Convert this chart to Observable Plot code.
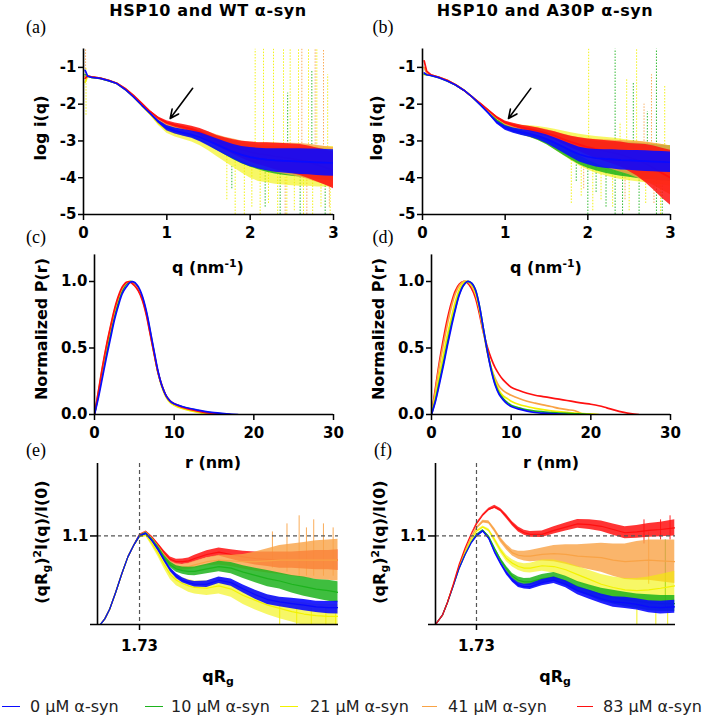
<!DOCTYPE html>
<html>
<head>
<meta charset="utf-8">
<script src="https://cdn.jsdelivr.net/npm/d3@7"></script>
<script src="https://cdn.jsdelivr.net/npm/@observablehq/plot@0.6"></script>
<style>
html,body{margin:0;padding:0;background:#fff;}
#fig{position:relative;width:709px;height:717px;overflow:hidden;background:#fff;font-family:"DejaVu Sans",sans-serif;color:#000;}
.lbl{position:absolute;white-space:nowrap;transform:translate(-50%,-50%);line-height:1;}
.title{font-weight:bold;font-size:16px;letter-spacing:0.6px;}
.letter{font-family:"Liberation Serif",serif;font-size:18px;}
.axt{font-weight:bold;font-size:16px;}
.rot{transform:translate(-50%,-50%) rotate(-90deg);}
sup,sub{font-size:0.68em;line-height:0;}
sup{vertical-align:0.55em;} sub{vertical-align:-0.25em;}
.legtxt{position:absolute;white-space:nowrap;font-size:16px;color:#222;transform:translateY(-50%);line-height:1;}
.legline{position:absolute;height:1.2px;}
</style>
</head>
<body>
<div id="fig"></div>
<script>
// ---------- series ----------
const seriesNames = ["0 µM α-syn","10 µM α-syn","21 µM α-syn","41 µM α-syn","83 µM α-syn"];
const seriesColors = ["#0a0aff","#1db31d","#f2f200","#f9a346","#ff1010"];

// ---------- tick values ----------
const qTicks = [0,1,2,3];
const logTicks = [-1,-2,-3,-4,-5];
const rTicks = [0,10,20,30];
const prTicks = [0,0.5,1.0];
const kxTicks = [1.73];
const kyTicks = [1.1];

// ---------- annotation arrows (tail q, tail log i, tip q, tip log i) ----------
const arrowA = [{q1: 1.31, y1: -1.57, q2: 1.04, y2: -2.39}];
const arrowB = [{q1: 1.31, y1: -1.57, q2: 1.04, y2: -2.39}];

// ---------- (a) HSP10 + WT : log i(q) ----------
const qA = [0.02,0.05,0.1,0.2,0.3,0.4,0.5,0.6,0.7,0.8,0.9,1.0,1.1,1.2,1.3,1.4,1.5,1.6,1.7,1.8,1.9,2.0,2.1,2.2,2.3,2.4,2.5,2.6,2.7,2.8,2.9,3.0];
const wt0  = [-1.08,-1.24,-1.27,-1.3,-1.36,-1.44,-1.6,-1.8,-2.03,-2.25,-2.48,-2.65,-2.73,-2.78,-2.83,-2.9,-3.0,-3.1,-3.2,-3.3,-3.38,-3.44,-3.48,-3.51,-3.53,-3.54,-3.55,-3.56,-3.57,-3.58,-3.59,-3.6];
const wt10 = [-1.2,-1.24,-1.27,-1.3,-1.36,-1.44,-1.59,-1.79,-2.01,-2.23,-2.45,-2.6,-2.68,-2.73,-2.78,-2.86,-2.96,-3.06,-3.16,-3.26,-3.34,-3.4,-3.45,-3.5,-3.53,-3.55,-3.57,-3.58,-3.6,-3.62,-3.64,-3.66];
const wt21 = [-1.4,-1.24,-1.27,-1.3,-1.36,-1.44,-1.6,-1.8,-2.04,-2.27,-2.52,-2.7,-2.78,-2.83,-2.88,-2.95,-3.05,-3.15,-3.25,-3.35,-3.45,-3.55,-3.6,-3.62,-3.65,-3.66,-3.67,-3.68,-3.68,-3.7,-3.7,-3.7];
const wt41 = [-1.25,-1.23,-1.26,-1.29,-1.35,-1.43,-1.58,-1.77,-1.99,-2.22,-2.42,-2.55,-2.62,-2.68,-2.74,-2.82,-2.92,-3.02,-3.12,-3.2,-3.28,-3.34,-3.39,-3.42,-3.45,-3.48,-3.5,-3.53,-3.57,-3.62,-3.67,-3.72];
const wt83 = [-1.3,-1.23,-1.26,-1.29,-1.35,-1.43,-1.57,-1.76,-1.98,-2.2,-2.38,-2.5,-2.57,-2.62,-2.68,-2.76,-2.87,-2.99,-3.08,-3.17,-3.24,-3.3,-3.35,-3.38,-3.42,-3.45,-3.48,-3.52,-3.58,-3.65,-3.72,-3.8];
// noise half-widths
const wt0s  = [0,0,0,0,0,0,0,0,0.01,0.02,0.04,0.07,0.08,0.09,0.1,0.12,0.14,0.16,0.18,0.2,0.23,0.26,0.28,0.3,0.32,0.33,0.34,0.35,0.35,0.36,0.36,0.36];
const wt10s = [0,0,0,0,0,0,0,0,0.01,0.02,0.04,0.06,0.08,0.1,0.12,0.14,0.16,0.19,0.22,0.25,0.28,0.31,0.33,0.35,0.37,0.38,0.39,0.4,0.41,0.42,0.43,0.43];
const wt21s = [0,0,0,0,0,0,0,0,0.02,0.03,0.06,0.09,0.11,0.13,0.15,0.18,0.22,0.27,0.32,0.37,0.42,0.46,0.5,0.52,0.53,0.54,0.55,0.55,0.55,0.55,0.55,0.55];
const wt41s = [0,0,0,0,0,0,0,0,0.01,0.02,0.04,0.06,0.08,0.1,0.12,0.14,0.16,0.19,0.22,0.25,0.28,0.31,0.34,0.37,0.4,0.42,0.44,0.46,0.48,0.5,0.52,0.54];
const wt83s = [0,0,0,0,0,0,0,0,0.01,0.02,0.03,0.05,0.06,0.07,0.08,0.1,0.12,0.14,0.17,0.2,0.23,0.27,0.3,0.33,0.36,0.38,0.4,0.42,0.44,0.46,0.48,0.5];
// outlier spikes (dotted)
const spA_q  = [0.025,0.03,2.06,2.16,2.28,2.40,2.48,2.58,2.70,2.80,2.93,2.62,2.78,2.88,2.74,2.45,1.72,1.82,1.93,2.02,2.12,2.22,2.33,2.44,2.53,2.64,2.75,2.85,2.96,1.78,2.18,2.36,2.6,2.9,2.42,2.68,2.95];
const spA_lo = [-1.3,-2.3,-3.3,-3.4,-3.4,-3.5,-3.5,-3.5,-3.5,-3.5,-3.5,-3.4,-3.5,-3.6,-3.6,-3.6,-4.6,-5,-5,-4.8,-5,-4.7,-5,-5,-4.9,-5,-5,-4.8,-5,-4.3,-4.8,-5,-5,-5,-5,-5,-4.8];
const spA_hi = [-0.5,-1.0,-0.5,-0.5,-0.5,-0.5,-0.5,-0.5,-0.5,-0.5,-1.2,-0.5,-0.5,-0.5,-1.1,-1.7,-3.4,-3.5,-3.6,-3.7,-3.7,-3.7,-3.8,-3.8,-3.8,-3.8,-3.8,-3.8,-3.8,-3.7,-3.8,-3.9,-3.9,-3.9,-4.0,-4.0,-4.0];
const spA_k  = [3,2,2,2,2,2,2,2,2,2,2,3,3,3,1,1,2,2,2,2,2,2,2,2,2,2,2,2,2,1,1,1,1,1,3,3,3];

// ---------- (b) HSP10 + A30P : log i(q) ----------
const ap0  = [-1.15,-1.2,-1.22,-1.28,-1.37,-1.48,-1.62,-1.8,-2.02,-2.25,-2.5,-2.65,-2.72,-2.77,-2.81,-2.87,-2.95,-3.05,-3.16,-3.27,-3.37,-3.43,-3.47,-3.49,-3.5,-3.52,-3.53,-3.54,-3.55,-3.56,-3.57,-3.58];
const ap10 = [-1.18,-1.2,-1.22,-1.28,-1.37,-1.48,-1.62,-1.8,-2.01,-2.23,-2.46,-2.6,-2.68,-2.73,-2.77,-2.83,-2.91,-3.01,-3.11,-3.21,-3.3,-3.36,-3.41,-3.45,-3.48,-3.5,-3.52,-3.54,-3.56,-3.58,-3.6,-3.62];
const ap21 = [-1.2,-1.19,-1.21,-1.27,-1.36,-1.47,-1.62,-1.8,-2.0,-2.21,-2.42,-2.56,-2.64,-2.7,-2.75,-2.8,-2.87,-2.96,-3.06,-3.16,-3.25,-3.32,-3.38,-3.42,-3.46,-3.5,-3.53,-3.56,-3.59,-3.62,-3.65,-3.68];
const ap41 = [-1.0,-1.15,-1.2,-1.27,-1.35,-1.47,-1.62,-1.8,-1.99,-2.19,-2.38,-2.52,-2.6,-2.65,-2.7,-2.76,-2.82,-2.9,-2.99,-3.08,-3.16,-3.23,-3.29,-3.34,-3.38,-3.42,-3.46,-3.51,-3.57,-3.64,-3.72,-3.8];
const ap83 = [-0.82,-1.1,-1.2,-1.27,-1.35,-1.47,-1.62,-1.8,-1.98,-2.17,-2.36,-2.5,-2.57,-2.63,-2.68,-2.73,-2.79,-2.86,-2.95,-3.03,-3.1,-3.17,-3.22,-3.27,-3.32,-3.37,-3.45,-3.52,-3.62,-3.74,-3.88,-4.0];
const ap0s  = [0,0,0,0,0,0,0,0,0.01,0.02,0.04,0.06,0.07,0.08,0.09,0.1,0.12,0.14,0.16,0.18,0.2,0.22,0.24,0.25,0.26,0.27,0.27,0.28,0.28,0.28,0.28,0.28];
const ap10s = [0,0,0,0,0,0,0,0,0.01,0.02,0.04,0.07,0.09,0.11,0.13,0.16,0.19,0.23,0.27,0.31,0.35,0.38,0.4,0.42,0.44,0.46,0.47,0.48,0.48,0.48,0.48,0.48];
const ap21s = [0,0,0,0,0,0,0,0,0.01,0.02,0.05,0.08,0.1,0.13,0.16,0.19,0.23,0.28,0.33,0.38,0.43,0.47,0.5,0.52,0.54,0.55,0.55,0.55,0.55,0.55,0.55,0.55];
const ap41s = [0,0,0,0,0,0,0,0,0.01,0.02,0.03,0.05,0.06,0.07,0.09,0.11,0.13,0.15,0.18,0.21,0.25,0.29,0.33,0.37,0.4,0.43,0.46,0.5,0.54,0.58,0.62,0.66];
const ap83s = [0,0,0,0,0,0,0,0,0.01,0.02,0.03,0.04,0.05,0.06,0.07,0.08,0.09,0.11,0.13,0.16,0.19,0.22,0.25,0.28,0.31,0.34,0.38,0.44,0.52,0.6,0.68,0.75];
const spB_q  = [2.01,2.39,2.47,2.59,2.93,2.33,2.55,2.83,2.72,2.77,2.68,1.86,2.0,2.1,2.22,2.42,2.62,2.9,1.8,1.92,2.06,2.16,2.3,2.5,2.7,2.88,1.95,2.45,2.8];
const spB_lo = [-3.4,-3.4,-3.5,-3.5,-3.6,-5,-3.6,-5,-3.6,-3.6,-3.5,-4.1,-5,-4.4,-4.8,-5,-5,-5,-4.7,-4.5,-4.9,-4.6,-4.8,-4.9,-4.7,-5,-4.3,-4.6,-4.7];
const spB_hi = [-0.5,-2.5,-1.3,-0.5,-1.5,-0.5,-1.4,-0.5,-2.2,-1.2,-2.0,-3.4,-3.6,-3.6,-3.7,-3.8,-3.8,-3.8,-3.4,-3.5,-3.6,-3.6,-3.7,-3.8,-3.8,-3.8,-3.5,-3.8,-3.9];
const spB_k  = [2,2,2,2,2,1,1,1,1,3,3,1,1,1,1,1,1,1,2,2,2,2,2,2,2,2,3,3,3];

// ---------- (c) P(r), WT ----------
const rC = [0,0.5,1,1.5,2,2.5,3,3.5,4,4.5,5,5.5,6,6.5,7,7.5,8,8.5,9,9.5,10,11,12,13,14,15,16,17,18];
const wtP0  = [0,0.13,0.28,0.43,0.57,0.71,0.82,0.91,0.96,0.995,0.995,0.96,0.89,0.78,0.63,0.47,0.32,0.21,0.14,0.1,0.08,0.06,0.045,0.033,0.022,0.014,0.008,0.003,0];
const wtP10 = [0,0.15,0.31,0.46,0.6,0.73,0.84,0.93,0.98,1.0,0.99,0.95,0.88,0.77,0.62,0.46,0.31,0.21,0.14,0.1,0.08,0.058,0.042,0.03,0.019,0.011,0.005,0,null];
const wtP21 = [0,0.16,0.33,0.49,0.63,0.76,0.86,0.94,0.99,1.0,0.98,0.94,0.87,0.76,0.61,0.45,0.31,0.2,0.13,0.09,0.07,0.045,0.028,0.015,0.005,0,null,null,null];
const wtP41 = [0,0.17,0.35,0.51,0.65,0.78,0.88,0.95,0.99,1.0,0.98,0.94,0.87,0.76,0.61,0.46,0.31,0.21,0.14,0.1,0.08,0.055,0.038,0.025,0.014,0.007,0.002,0,null];
const wtP83 = [0,0.18,0.36,0.52,0.66,0.79,0.89,0.96,0.995,0.995,0.97,0.93,0.86,0.75,0.6,0.45,0.31,0.21,0.14,0.1,0.08,0.055,0.038,0.025,0.014,0.007,0.002,0,null];

// ---------- (d) P(r), A30P ----------
const rD = [0,0.5,1,1.5,2,2.5,3,3.5,4,4.5,5,5.5,6,6.5,7,7.5,8,8.5,9,9.5,10,11,12,13,14,15,16,17,18,19,20,21,22,23,24,25,26];
const apP0  = [0,0.1,0.23,0.37,0.52,0.66,0.79,0.9,0.97,1.0,0.99,0.94,0.82,0.65,0.48,0.33,0.22,0.15,0.11,0.08,0.06,0.04,0.025,0.015,0.01,0.006,0.003,0,null,null,null,null,null,null,null,null,null];
const apP10 = [0,0.11,0.25,0.39,0.54,0.68,0.8,0.91,0.97,1.0,0.99,0.94,0.82,0.65,0.48,0.34,0.23,0.16,0.12,0.09,0.07,0.05,0.035,0.026,0.02,0.015,0.011,0.008,0.005,0.003,0,null,null,null,null,null,null];
const apP21 = [0,0.14,0.3,0.45,0.6,0.73,0.85,0.94,0.99,1.0,0.98,0.92,0.8,0.64,0.48,0.35,0.25,0.18,0.14,0.12,0.1,0.075,0.06,0.046,0.036,0.028,0.021,0.016,0.011,0.007,0.004,0,null,null,null,null,null];
const apP41 = [0,0.18,0.37,0.53,0.68,0.81,0.91,0.97,1.0,1.0,0.97,0.91,0.79,0.63,0.47,0.35,0.27,0.21,0.18,0.16,0.145,0.12,0.1,0.085,0.072,0.06,0.046,0.036,0.028,0,null,null,null,null,null,null,null];
const apP83 = [0,0.2,0.4,0.57,0.72,0.84,0.93,0.98,1.0,0.99,0.95,0.88,0.76,0.62,0.51,0.42,0.35,0.3,0.26,0.23,0.205,0.18,0.16,0.145,0.135,0.125,0.115,0.105,0.095,0.085,0.077,0.066,0.05,0.033,0.018,0.006,0];

// ---------- (e) dimensionless Kratky, WT ----------
const kE = [0.12,0.3,0.5,0.75,1.0,1.25,1.5,1.73,2.0,2.25,2.5,2.75,3.0,3.25,3.5,3.75,4.0,4.5,5.0,5.5,6.0,6.5,7.0,7.5,8.0,8.5,9.0,9.5,9.9];
const kE0  = [0,0.07,0.19,0.4,0.63,0.84,0.99,1.1,1.13,1.04,0.93,0.8,0.68,0.6,0.55,0.52,0.5,0.5,0.55,0.52,0.44,0.37,0.31,0.28,0.26,0.24,0.22,0.21,0.21];
const kE10 = [0,0.07,0.19,0.4,0.63,0.84,0.99,1.1,1.13,1.05,0.95,0.83,0.74,0.69,0.67,0.66,0.66,0.69,0.72,0.7,0.65,0.61,0.57,0.54,0.5,0.47,0.44,0.42,0.4];
const kE21 = [0,0.07,0.19,0.4,0.63,0.84,0.99,1.09,1.11,1.0,0.88,0.74,0.62,0.55,0.51,0.48,0.46,0.45,0.48,0.44,0.36,0.3,0.24,0.2,0.16,0.13,0.11,0.1,0.1];
const kE41 = [0,0.07,0.19,0.4,0.63,0.84,0.99,1.1,1.14,1.06,0.96,0.85,0.76,0.72,0.71,0.72,0.74,0.78,0.8,0.79,0.78,0.78,0.79,0.8,0.8,0.8,0.8,0.8,0.8];
const kE83 = [0,0.07,0.19,0.4,0.63,0.84,0.99,1.11,1.15,1.08,0.99,0.89,0.81,0.78,0.78,0.79,0.82,0.87,0.9,0.87,0.84,0.82,0.81,0.8,0.8,0.8,0.8,0.8,0.8];
const kE0s  = [0,0,0,0,0,0,0,0.01,0.01,0.015,0.02,0.02,0.025,0.03,0.03,0.03,0.035,0.04,0.04,0.045,0.05,0.055,0.06,0.06,0.065,0.07,0.07,0.075,0.08];
const kE10s = [0,0,0,0,0,0,0,0.01,0.015,0.02,0.025,0.03,0.035,0.04,0.045,0.05,0.055,0.06,0.065,0.07,0.08,0.09,0.1,0.1,0.11,0.12,0.12,0.13,0.13];
const kE21s = [0,0,0,0,0,0,0,0.015,0.02,0.03,0.04,0.05,0.06,0.07,0.07,0.08,0.08,0.09,0.1,0.1,0.11,0.12,0.12,0.13,0.13,0.14,0.14,0.15,0.15];
const kE41s = [0,0,0,0,0,0,0,0.01,0.015,0.02,0.025,0.03,0.03,0.035,0.035,0.04,0.045,0.05,0.06,0.07,0.09,0.12,0.15,0.18,0.2,0.22,0.24,0.25,0.26];
const kE83s = [0,0,0,0,0,0,0,0.01,0.012,0.015,0.02,0.025,0.03,0.03,0.035,0.035,0.04,0.045,0.05,0.06,0.07,0.08,0.09,0.1,0.1,0.11,0.12,0.12,0.13];
const spE_q  = [7.2,7.8,8.3,8.6,8.9,9.3,9.7,7.5,8.2,8.8,9.4,9.8];
const spE_lo = [0.7,0.65,0.6,0.6,0.6,0.6,0.6,0,0,0,0,0];
const spE_hi = [1.15,1.25,1.35,1.2,1.3,1.25,1.2,0.25,0.2,0.2,0.2,0.2];
const spE_k  = [3,3,3,3,3,3,3,2,2,2,2,2];

// ---------- (f) dimensionless Kratky, A30P ----------
const kF = [0,0.3,0.5,0.75,1.0,1.25,1.5,1.73,2.0,2.25,2.5,2.75,3.0,3.25,3.5,3.75,4.0,4.5,5.0,5.5,6.0,6.5,7.0,7.5,8.0,8.5,9.0,9.5,10.1];
const kF0  = [0,0.12,0.27,0.48,0.7,0.87,1.01,1.1,1.16,1.07,0.9,0.76,0.64,0.55,0.49,0.47,0.47,0.52,0.55,0.5,0.42,0.37,0.32,0.28,0.27,0.25,0.22,0.21,0.22];
const kF10 = [0,0.12,0.27,0.48,0.7,0.87,1.02,1.11,1.17,1.09,0.94,0.8,0.69,0.6,0.55,0.53,0.53,0.57,0.59,0.54,0.47,0.42,0.37,0.34,0.31,0.29,0.27,0.26,0.26];
const kF21 = [0,0.12,0.27,0.49,0.72,0.9,1.05,1.16,1.21,1.17,1.05,0.92,0.82,0.76,0.72,0.7,0.7,0.73,0.72,0.68,0.62,0.56,0.5,0.46,0.43,0.42,0.43,0.45,0.48];
const kF41 = [0,0.12,0.27,0.49,0.73,0.92,1.08,1.2,1.28,1.27,1.17,1.05,0.96,0.89,0.86,0.85,0.85,0.87,0.88,0.87,0.85,0.84,0.83,0.8,0.78,0.79,0.8,0.79,0.78];
const kF83 = [0,0.12,0.27,0.5,0.75,0.95,1.12,1.25,1.36,1.43,1.46,1.42,1.34,1.25,1.18,1.14,1.12,1.12,1.17,1.21,1.25,1.24,1.22,1.18,1.14,1.15,1.17,1.18,1.2];
const kF0s  = [0,0,0,0,0,0,0,0.01,0.01,0.015,0.02,0.02,0.025,0.025,0.03,0.03,0.035,0.04,0.04,0.045,0.05,0.055,0.06,0.065,0.07,0.07,0.075,0.08,0.08];
const kF10s = [0,0,0,0,0,0,0,0.01,0.01,0.015,0.02,0.025,0.03,0.035,0.04,0.04,0.045,0.05,0.055,0.06,0.065,0.07,0.08,0.085,0.09,0.09,0.1,0.1,0.1];
const kF21s = [0,0,0,0,0,0,0,0.01,0.015,0.02,0.03,0.035,0.04,0.045,0.05,0.055,0.06,0.07,0.08,0.09,0.1,0.11,0.12,0.13,0.14,0.15,0.16,0.17,0.18];
const kF41s = [0,0,0,0,0,0,0,0.01,0.015,0.02,0.025,0.03,0.035,0.04,0.05,0.06,0.07,0.08,0.1,0.12,0.14,0.16,0.18,0.2,0.22,0.24,0.25,0.26,0.27];
const kF83s = [0,0,0,0,0,0,0,0.01,0.01,0.015,0.02,0.02,0.025,0.025,0.03,0.03,0.035,0.04,0.045,0.05,0.055,0.06,0.065,0.07,0.075,0.08,0.085,0.09,0.1];
const spF_q  = [8.8,9.5,9.9,9.7,8.5,9.3,9.8,9.0];
const spF_lo = [1.0,1.05,1.05,0.2,0,0,0,0.5];
const spF_hi = [1.3,1.3,1.35,1.05,0.3,0.25,0.3,1.15];
const spF_k  = [4,4,4,1,2,2,2,3];

// ---------- helpers ----------
const fig = document.getElementById("fig");
const colorScale = {domain: seriesNames, range: seriesColors};
const baseStyle = {fontFamily: "DejaVu Sans, sans-serif", fontSize: "15px", fontWeight: "bold", background: "transparent", overflow: "visible", color: "#000"};
const fmtInt = d => String(d);

function rowsOf(xs, ys, ss, k) {
  return xs.map((x, i) => {
    const y = ys[i];
    const s = ss ? ss[i] : 0;
    return {x, y, lo: y == null ? null : y - s, hi: y == null ? null : y + s, s: seriesNames[k]};
  });
}
function spikeRows(qs, los, his, ks) {
  return qs.map((q, i) => ({q, lo: los[i], hi: his[i], s: seriesNames[ks[i]]}));
}
const bandOpacity = [0.9, 0.85, 0.6, 0.8, 0.85];
function seriesLayer(xs, ysList, ssList, order, curve, sw) {
  const marks = [];
  for (const k of order) {
    const rows = rowsOf(xs, ysList[k], ssList ? ssList[k] : null, k);
    if (ssList) marks.push(Plot.areaY(rows, {x: "x", y1: "lo", y2: "hi", fill: "s", fillOpacity: bandOpacity[k], curve, clip: true}));
    marks.push(Plot.lineY(rows, {x: "x", y: "y", stroke: "s", strokeWidth: sw, curve, clip: true}));
  }
  return marks;
}
function place(svg, left, top) {
  svg.style.position = "absolute";
  svg.style.left = left + "px";
  svg.style.top = top + "px";
  fig.appendChild(svg);
}
function axisMarksLog() {
  return [
    Plot.ruleY([-5], {strokeWidth: 1.6}),
    Plot.ruleX([0], {strokeWidth: 1.6}),
    Plot.axisX({ticks: qTicks, tickSize: 6, tickPadding: 7, strokeWidth: 1.5, fontWeight: "bold", label: null, tickFormat: fmtInt}),
    Plot.axisY({ticks: logTicks, tickSize: 5, tickPadding: 2, strokeWidth: 1.5, fontWeight: "bold", label: null, tickFormat: fmtInt})
  ];
}
function axisMarksPr() {
  return [
    Plot.ruleY([0], {strokeWidth: 1.6}),
    Plot.ruleX([0], {strokeWidth: 1.6}),
    Plot.axisX({ticks: rTicks, tickSize: 6, tickPadding: 7, strokeWidth: 1.5, fontWeight: "bold", label: null, tickFormat: fmtInt}),
    Plot.axisY({ticks: prTicks, tickSize: 5, tickPadding: 2, strokeWidth: 1.5, fontWeight: "bold", label: null, tickFormat: d3.format(".1f")})
  ];
}
function axisMarksK() {
  return [
    Plot.ruleX(kxTicks, {stroke: "#555", strokeDasharray: "4,3", strokeWidth: 1.2}),
    Plot.ruleY(kyTicks, {stroke: "#555", strokeDasharray: "4,3", strokeWidth: 1.2}),
    Plot.ruleY([0], {strokeWidth: 1.6, insetLeft: -7}),
    Plot.ruleX([0], {strokeWidth: 1.6}),
    Plot.axisX({ticks: kxTicks, tickSize: 6, tickPadding: 10, strokeWidth: 1.5, fontWeight: "bold", label: null, tickFormat: d => d.toFixed(2)}),
    Plot.axisY({ticks: kyTicks, tickSize: 7, tickPadding: 2, strokeWidth: 1.5, fontWeight: "bold", label: null, tickFormat: d => d.toFixed(1)})
  ];
}
const spikeStyle = {x: "q", y1: "lo", y2: "hi", stroke: "s", strokeWidth: 0.9, strokeDasharray: "1.5,1.5", clip: true};
const arrowStyle = {x1: "q1", y1: "y1", x2: "q2", y2: "y2", stroke: "#000", strokeWidth: 1.6, headLength: 9, headAngle: 50};

// ---------- (a) ----------
place(Plot.plot({
  width: 345, height: 215, marginLeft: 83, marginRight: 12, marginTop: 8.5, marginBottom: 41,
  style: baseStyle,
  x: {domain: [0, 3], label: null}, y: {domain: [-5, -0.5], label: null},
  color: colorScale,
  marks: [
    Plot.ruleX(spikeRows(spA_q, spA_lo, spA_hi, spA_k), spikeStyle),
    ...seriesLayer(qA, [wt0, wt10, wt21, wt41, wt83], [wt0s, wt10s, wt21s, wt41s, wt83s], [2, 1, 3, 4, 0], "linear", 1.7),
    Plot.arrow(arrowA, arrowStyle),
    ...axisMarksLog()
  ]
}), 0, 40);

// ---------- (b) ----------
place(Plot.plot({
  width: 345, height: 215, marginLeft: 82, marginRight: 15, marginTop: 8.5, marginBottom: 41,
  style: baseStyle,
  x: {domain: [0, 3], label: null}, y: {domain: [-5, -0.5], label: null},
  color: colorScale,
  marks: [
    Plot.ruleX(spikeRows(spB_q, spB_lo, spB_hi, spB_k), spikeStyle),
    ...seriesLayer(qA, [ap0, ap10, ap21, ap41, ap83], [ap0s, ap10s, ap21s, ap41s, ap83s], [2, 1, 3, 4, 0], "linear", 1.7),
    Plot.arrow(arrowB, arrowStyle),
    ...axisMarksLog()
  ]
}), 340, 40);

// ---------- (c) ----------
place(Plot.plot({
  width: 345, height: 205, marginLeft: 94, marginRight: 12, marginTop: 9.4, marginBottom: 36,
  style: baseStyle,
  x: {domain: [0, 30], label: null}, y: {domain: [0, 1.2], label: null},
  color: colorScale,
  marks: [
    ...seriesLayer(rC, [wtP0, wtP10, wtP21, wtP41, wtP83], null, [2, 1, 3, 4, 0], "catmull-rom", 1.7),
    ...axisMarksPr()
  ]
}), 0, 245);

// ---------- (d) ----------
place(Plot.plot({
  width: 345, height: 205, marginLeft: 91, marginRight: 15, marginTop: 9.4, marginBottom: 36,
  style: baseStyle,
  x: {domain: [0, 30], label: null}, y: {domain: [0, 1.2], label: null},
  color: colorScale,
  marks: [
    ...seriesLayer(rD, [apP0, apP10, apP21, apP41, apP83], null, [4, 3, 2, 1, 0], "catmull-rom", 1.7),
    ...axisMarksPr()
  ]
}), 340, 245);

// ---------- (e) ----------
place(Plot.plot({
  width: 345, height: 205, marginLeft: 97, marginRight: 7, marginTop: 8, marginBottom: 36,
  style: baseStyle,
  x: {domain: [0, 9.92], label: null}, y: {domain: [0, 2], label: null},
  color: colorScale,
  marks: [
    Plot.ruleX(spikeRows(spE_q, spE_lo, spE_hi, spE_k), {x: "q", y1: "lo", y2: "hi", stroke: "s", strokeWidth: 0.9, clip: true}),
    ...seriesLayer(kE, [kE0, kE10, kE21, kE41, kE83], [kE0s, kE10s, kE21s, kE41s, kE83s], [2, 4, 3, 1, 0], "linear", 1.2),
    ...axisMarksK()
  ]
}), 0, 455);

// ---------- (f) ----------
place(Plot.plot({
  width: 345, height: 205, marginLeft: 95, marginRight: 10, marginTop: 8, marginBottom: 36,
  style: baseStyle,
  x: {domain: [0, 10.13], label: null}, y: {domain: [0, 2], label: null},
  color: colorScale,
  marks: [
    Plot.ruleX(spikeRows(spF_q, spF_lo, spF_hi, spF_k), {x: "q", y1: "lo", y2: "hi", stroke: "s", strokeWidth: 0.9, clip: true}),
    ...seriesLayer(kF, [kF0, kF10, kF21, kF41, kF83], [kF0s, kF10s, kF21s, kF41s, kF83s], [3, 2, 1, 0, 4], "linear", 1.2),
    ...axisMarksK()
  ]
}), 340, 455);

// ---------- text ----------
const labels = [
  ["title", "HSP10 and WT α-syn", 208, 10.5],
  ["title", "HSP10 and A30P α-syn", 545, 10.5],
  ["letter", "(a)", 36, 27], ["letter", "(b)", 383, 27],
  ["letter", "(c)", 36, 237], ["letter", "(d)", 383, 237],
  ["letter", "(e)", 36, 450], ["letter", "(f)", 383, 450],
  ["axt", "q (nm<sup>-1</sup>)", 208, 268], ["axt", "q (nm<sup>-1</sup>)", 546, 268],
  ["axt", "r (nm)", 213, 463], ["axt", "r (nm)", 551, 463],
  ["axt", "qR<sub>g</sub>", 218, 677], ["axt", "qR<sub>g</sub>", 555, 677],
  ["axt rot", "log i(q)", 41, 128], ["axt rot", "log i(q)", 377, 128],
  ["axt rot", "Normalized P(r)", 42, 329], ["axt rot", "Normalized P(r)", 379, 329],
  ["axt rot", "(qR<sub>g</sub>)<sup>2</sup>I(q)/I(0)", 42, 542], ["axt rot", "(qR<sub>g</sub>)<sup>2</sup>I(q)/I(0)", 380, 542]
];
for (const [cls, html, x, y] of labels) {
  const d = document.createElement("div");
  d.className = "lbl " + cls;
  d.innerHTML = html;
  d.style.left = x + "px";
  d.style.top = y + "px";
  fig.appendChild(d);
}

// ---------- legend ----------
const legendLayout = [[2, 20, 30], [145, 163, 171], [280, 298, 310], [422, 437, 448], [577, 593, 603]];
seriesNames.forEach((name, i) => {
  const [x1, x2, tx] = legendLayout[i];
  const ln = document.createElement("div");
  ln.className = "legline";
  ln.style.left = x1 + "px";
  ln.style.width = (x2 - x1) + "px";
  ln.style.top = "706px";
  ln.style.backgroundColor = seriesColors[i];
  fig.appendChild(ln);
  const t = document.createElement("div");
  t.className = "legtxt";
  t.textContent = name;
  t.style.left = tx + "px";
  t.style.top = "707px";
  fig.appendChild(t);
});
</script>
</body>
</html>
